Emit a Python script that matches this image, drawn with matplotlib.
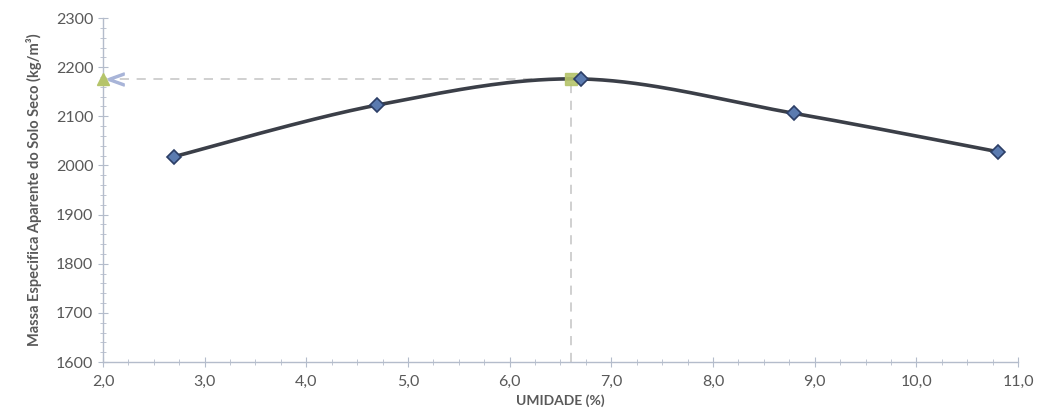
import numpy as np
import matplotlib
matplotlib.use("Agg")
from matplotlib import pyplot as plt
from matplotlib.ticker import MultipleLocator, FuncFormatter

plt.rcParams['font.family'] = ['Lato', 'DejaVu Sans']

# dados do ensaio
umidade = [2.7, 4.7, 6.7, 8.8, 10.8]
massa = [2018, 2123, 2176, 2106, 2028]
# ponto otimo
umidade_otima = 6.6
massa_max = 2176


def cardinal_spline(x, y, tension=0.5, n=40):
    # curva suave tipo Excel, passando pelos pontos
    x = np.asarray(x, float)
    y = np.asarray(y, float)
    # nas pontas repete o ponto (tangente mais curta, como no Excel)
    px = np.concatenate([[x[0]], x, [x[-1]]])
    py = np.concatenate([[y[0]], y, [y[-1]]])
    xs, ys = [], []
    t = np.linspace(0, 1, n)
    for i in range(1, len(px) - 2):
        m1x = tension * (px[i + 1] - px[i - 1])
        m1y = tension * (py[i + 1] - py[i - 1])
        m2x = tension * (px[i + 2] - px[i])
        m2y = tension * (py[i + 2] - py[i])
        h00 = 2 * t ** 3 - 3 * t ** 2 + 1
        h10 = t ** 3 - 2 * t ** 2 + t
        h01 = -2 * t ** 3 + 3 * t ** 2
        h11 = t ** 3 - t ** 2
        xs.append(h00 * px[i] + h10 * m1x + h01 * px[i + 1] + h11 * m2x)
        ys.append(h00 * py[i] + h10 * m1y + h01 * py[i + 1] + h11 * m2y)
    return np.concatenate(xs), np.concatenate(ys)


fig = plt.figure(figsize=(10.37, 4.19), dpi=100)
ax = fig.add_axes([0.0993, 0.136, 0.8824, 0.821])

# linhas tracejadas do ponto otimo
ax.plot([2.0, umidade_otima], [massa_max, massa_max], color="#c4c4c4", lw=1.1, ls=(0, (6, 5)), zorder=1)
ax.plot([umidade_otima, umidade_otima], [1600, massa_max], color="#c4c4c4", lw=1.1, ls=(0, (6, 5)), zorder=1)

sx, sy = cardinal_spline(umidade, massa)
ax.plot(sx, sy, color="#3b3f48", lw=2.6, zorder=2)
ax.plot(umidade, massa, ls="none", marker="D", ms=7.5, mfc="#5b7bb0", mec="#2c3e66", mew=1.2, zorder=3)

ax.plot([umidade_otima], [massa_max], marker="s", ms=8, color="#b5c46a", zorder=2.5, alpha=0.9)
ax.plot([2.0], [massa_max], marker="^", ms=9, color="#b5c46a", zorder=4, clip_on=False)
ax.plot([2.13], [massa_max], marker="$<$", ms=11, color="#a8b4d8", zorder=4, clip_on=False)

ax.set_xlim(2.0, 11.0)
ax.set_ylim(1600, 2300)
ax.xaxis.set_major_locator(MultipleLocator(1.0))
ax.xaxis.set_minor_locator(MultipleLocator(0.25))
ax.yaxis.set_major_locator(MultipleLocator(100))
ax.yaxis.set_minor_locator(MultipleLocator(20))
ax.xaxis.set_major_formatter(FuncFormatter(lambda v, p: f"{v:.1f}".replace(".", ",")))

for s in ["top", "right"]:
    ax.spines[s].set_visible(False)
for s in ["left", "bottom"]:
    ax.spines[s].set_color("#b4bccb")
    ax.spines[s].set_linewidth(1.0)
ax.tick_params(which="both", direction="inout", color="#b4bccb", labelcolor="#595959", labelsize=11.5)
ax.tick_params(which="major", length=7)
ax.tick_params(which="minor", length=5)
ax.tick_params(axis="x", pad=6)

ax.set_xlabel("UMIDADE (%)", fontsize=10, fontweight="bold", color="#595959", labelpad=4)
ax.set_ylabel("Massa Especifica Aparente do Solo Seco (kg/m³)", fontsize=10.5, fontweight="bold", color="#595959", labelpad=10)

plt.savefig("out.png", dpi=100)
plt.close()
